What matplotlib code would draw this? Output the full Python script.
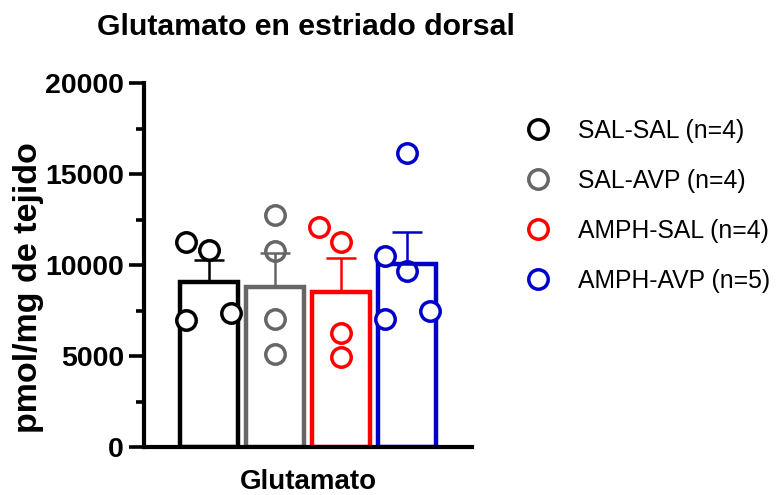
import matplotlib
matplotlib.use("Agg")
import matplotlib.pyplot as plt
from matplotlib.ticker import MultipleLocator
from matplotlib.lines import Line2D

plt.rcParams['font.family'] = ['Liberation Sans', 'DejaVu Sans']

# Group data: glutamate (pmol/mg tissue) in dorsal striatum
groups = ["SAL-SAL", "SAL-AVP", "AMPH-SAL", "AMPH-AVP"]
n_per_group = [4, 4, 4, 5]
bar_means = [9050, 8800, 8500, 10070]
bar_sem = [1200, 1850, 1900, 1730]
points = [
    [11250, 10850, 6960, 7370],
    [12740, 10760, 7030, 5100],
    [12100, 11250, 6260, 4940],
    [16180, 10480, 9660, 7050, 7450],
]
# horizontal scatter offsets (in bar-slot units) for the individual points
point_offsets = [
    [-0.34, 0.0, -0.34, 0.33],
    [0.0, 0.0, 0.0, 0.0],
    [-0.34, 0.0, 0.0, 0.0],
    [0.0, -0.34, 0.0, -0.34, 0.34],
]
colors = ["#000000", "#666666", "#ff0000", "#0000c8"]

fig = plt.figure(figsize=(7.78, 4.95), dpi=100)
ax = fig.add_axes([144/778, 1-447/495, (472-144)/778, (447-83)/495])

x = list(range(len(groups)))
for i in x:
    ax.bar(i, bar_means[i], width=0.88, facecolor="white", edgecolor=colors[i],
           linewidth=3.2, zorder=1)
    ax.plot([i + o for o in point_offsets[i]], points[i], linestyle="none",
            marker="o", markersize=14, markerfacecolor="white",
            markeredgecolor=colors[i], markeredgewidth=2.5, zorder=2)
    ax.errorbar(i, bar_means[i], yerr=[[0], [bar_sem[i]]], fmt="none",
                ecolor=colors[i], elinewidth=1.8, capsize=11, capthick=1.8,
                zorder=3)

ax.set_xlim(-0.98, 3.98)
ax.set_ylim(0, 20000)
ax.set_xticks([])
ax.yaxis.set_major_locator(MultipleLocator(5000))
ax.yaxis.set_minor_locator(MultipleLocator(2500))
ax.tick_params(axis="y", which="major", length=10.5, width=2.6, pad=4,
               labelsize=20.5)
ax.tick_params(axis="y", which="minor", length=6, width=2.6)
for lab in ax.get_yticklabels():
    lab.set_fontweight("bold")

for s in ["top", "right"]:
    ax.spines[s].set_visible(False)
for s in ["left", "bottom"]:
    ax.spines[s].set_linewidth(3.0)

ax.set_ylabel("pmol/mg de tejido", fontsize=24.5, fontweight="bold",
              va="center")
ax.yaxis.set_label_coords((29-144)/328, (447-288)/364)
ax.set_xlabel("Glutamato", fontsize=20, fontweight="bold", va="baseline")
ax.xaxis.set_label_coords(0.5, (447-489)/364)

fig.text(306/778, 1-35/495, "Glutamato en estriado dorsal", ha="center",
         va="baseline", fontsize=21.8, fontweight="bold")

handles = [Line2D([], [], linestyle="none", marker="o", markersize=14,
                  markerfacecolor="white", markeredgecolor=c,
                  markeredgewidth=2.5) for c in colors]
labels = [f"{g} (n={n})" for g, n in zip(groups, n_per_group)]
fig.legend(handles, labels, loc="upper left",
           bbox_to_anchor=(526/778, 1-119/495), frameon=False,
           fontsize=17.8, handlelength=1.0, handletextpad=1.1,
           labelspacing=1.05, borderpad=0, borderaxespad=0)

fig.savefig("out.png", dpi=100)
